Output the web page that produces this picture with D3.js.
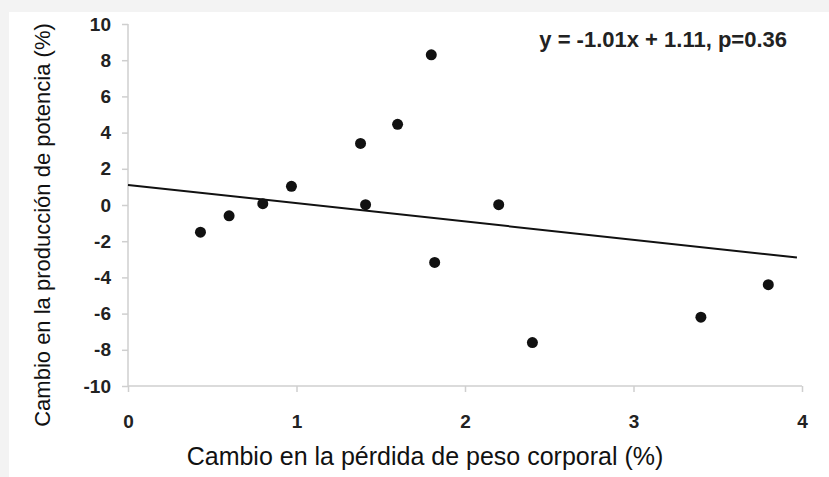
<!DOCTYPE html>
<html>
<head>
<meta charset="utf-8">
<script src="https://cdn.jsdelivr.net/npm/d3@7"></script>
<style>
  body { margin: 0; background: #f3f3f3; }
  svg { display: block; }
</style>
</head>
<body>
<div id="chart"></div>
<script>
// weight-loss change vs power output change
const weightLoss = [0.43, 0.6, 0.8, 0.97, 1.38, 1.41, 1.6, 1.8, 1.82, 2.2, 2.4, 3.4, 3.8];
const powerChange = [-1.5, -0.6, 0.07, 1.03, 3.4, 0.02, 4.46, 8.3, -3.17, 0.02, -7.6, -6.2, -4.4];
const xTicks = [0, 1, 2, 3, 4];
const yTicks = [-10, -8, -6, -4, -2, 0, 2, 4, 6, 8, 10];
const slope = -1.01, intercept = 1.11;
const fitRange = [0, 3.97];

const width = 829, height = 477;
const svg = d3.select('#chart').append('svg')
    .attr('width', width)
    .attr('height', height);

// white panel
svg.append('rect')
    .attr('x', 9).attr('y', 12)
    .attr('width', width - 9).attr('height', height - 12)
    .attr('fill', '#fff');

const x = d3.scaleLinear().domain([0, 4]).range([128, 802]);
const y = d3.scaleLinear().domain([-10, 10]).range([386, 24]);

const font = 'Liberation Sans, Arial, sans-serif';
const fmt = d => String(d); // keep plain hyphen for negatives

// y axis
const yAxis = svg.append('g')
    .attr('transform', `translate(${x(0)},0)`)
    .call(d3.axisLeft(y).tickValues(yTicks).tickFormat(fmt).tickSize(6).tickPadding(11));
// x axis
const xAxis = svg.append('g')
    .attr('transform', `translate(0,${y(-10)})`)
    .call(d3.axisBottom(x).tickValues(xTicks).tickFormat(fmt).tickSize(6).tickPadding(23));

[yAxis, xAxis].forEach(g => {
  g.selectAll('path, line').attr('stroke', '#cfcfcf').attr('stroke-width', 1.5);
  g.selectAll('text')
      .attr('fill', '#222')
      .style('font-family', font)
      .style('font-size', '19px')
      .style('font-weight', 'bold');
});
yAxis.select('.domain').attr('d', `M0,${y(10)}V${y(-10)}`);
xAxis.select('.domain').attr('d', `M${x(0)},0H${x(4)}`);

// regression line
svg.append('line')
    .attr('x1', x(fitRange[0])).attr('y1', y(slope * fitRange[0] + intercept))
    .attr('x2', x(fitRange[1])).attr('y2', y(slope * fitRange[1] + intercept))
    .attr('stroke', '#111')
    .attr('stroke-width', 2);

// points
svg.append('g').selectAll('circle')
    .data(weightLoss.map((v, i) => [v, powerChange[i]]))
    .join('circle')
    .attr('cx', d => x(d[0]))
    .attr('cy', d => y(d[1]))
    .attr('r', 5.5)
    .attr('fill', '#111');

// equation
svg.append('text')
    .attr('x', 787).attr('y', 47)
    .attr('text-anchor', 'end')
    .style('font-family', font)
    .style('font-size', '22px')
    .style('font-weight', 'bold')
    .attr('fill', '#222')
    .text('y = -1.01x + 1.11, p=0.36');

// axis titles
svg.append('text')
    .attr('x', 425).attr('y', 465)
    .attr('text-anchor', 'middle')
    .style('font-family', font)
    .style('font-size', '25px')
    .attr('fill', '#111')
    .text('Cambio en la pérdida de peso corporal (%)');

svg.append('text')
    .attr('transform', 'translate(50,225) rotate(-90)')
    .attr('text-anchor', 'middle')
    .style('font-family', font)
    .style('font-size', '22px')
    .attr('fill', '#111')
    .text('Cambio en la producción de potencia (%)');
</script>
</body>
</html>
